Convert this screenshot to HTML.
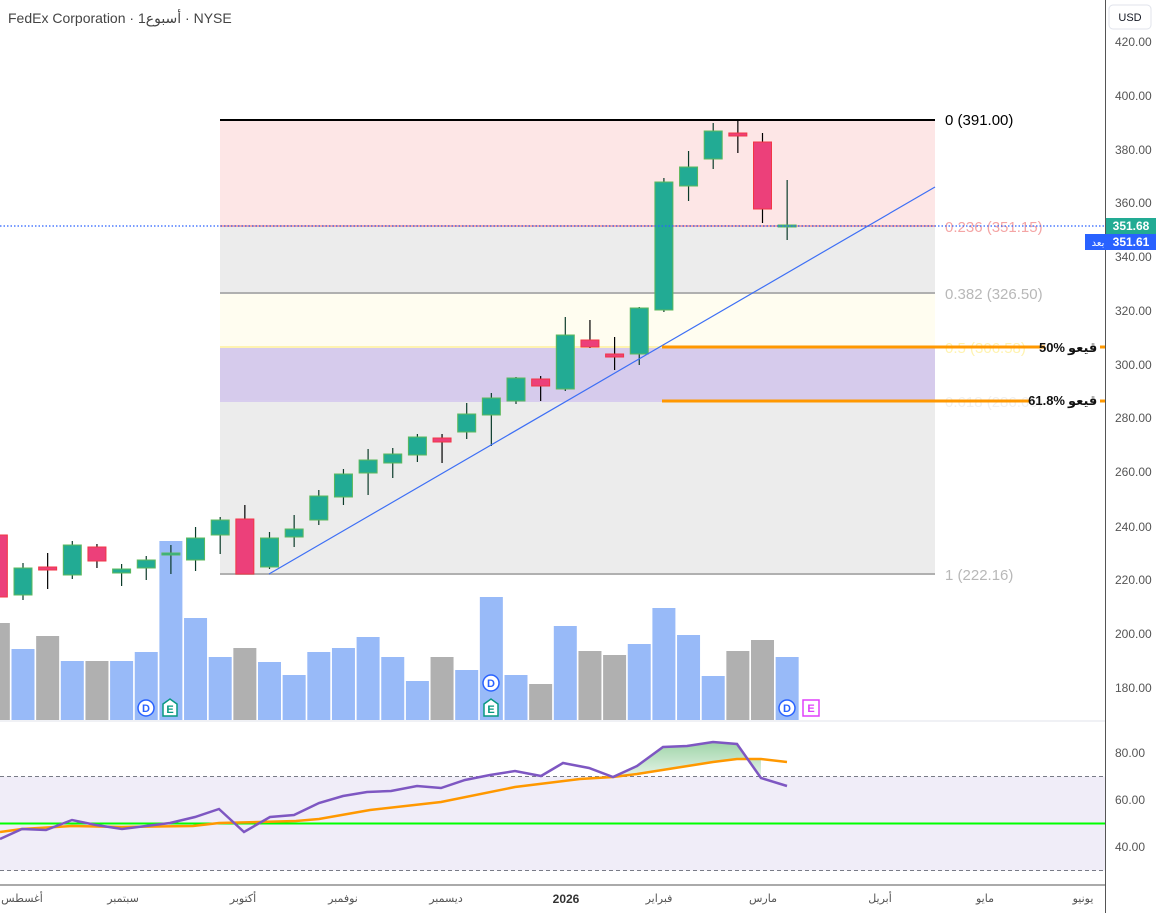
<!DOCTYPE html>
<html><head><meta charset="utf-8"><style>
body{margin:0;background:#fff;width:1159px;height:913px;overflow:hidden;font-family:"Liberation Sans","Noto Sans CJK SC",sans-serif}
svg{display:block}
text{font-family:"Liberation Sans","DejaVu Sans",sans-serif}
</style></head><body>
<svg id="s" width="1159" height="913" viewBox="0 0 1159 913" xmlns="http://www.w3.org/2000/svg">
<defs>
<linearGradient id="gg" x1="0" y1="0" x2="0" y2="1"><stop offset="0" stop-color="#9fd4a8"/><stop offset="1" stop-color="#e8f5ea"/></linearGradient>
<clipPath id="ob"><rect x="0" y="720" width="1105" height="56.5"/></clipPath>
</defs>
<rect x="220" y="120" width="715" height="106" fill="#fde6e6"/>
<rect x="220" y="226" width="715" height="67" fill="#ececec"/>
<rect x="220" y="293" width="715" height="54" fill="#fffdf0"/>
<rect x="220" y="347" width="715" height="54" fill="#d6cbec"/>
<rect x="220" y="401" width="715" height="173" fill="#ececec"/>
<line x1="220" y1="120" x2="935" y2="120" stroke="#000" stroke-width="2"/>
<line x1="220" y1="226" x2="935" y2="226" stroke="#f4a5a5" stroke-width="2"/>
<line x1="220" y1="293" x2="935" y2="293" stroke="#b0b0b0" stroke-width="2"/>
<line x1="220" y1="347" x2="935" y2="347" stroke="#fff3b0" stroke-width="2"/>
<line x1="220" y1="401" x2="935" y2="401" stroke="#d8cdee" stroke-width="2"/>
<line x1="220" y1="574" x2="935" y2="574" stroke="#b0b0b0" stroke-width="2"/>
<g font-size="15">
<text x="945" y="125" fill="#000">0 (391.00)</text>
<text x="945" y="232" fill="#f4a5a5">0.236 (351.15)</text>
<text x="945" y="299" fill="#b8b8b8">0.382 (326.50)</text>
<text x="945" y="353" fill="#fff3b0">0.5 (306.58)</text>
<text x="945" y="407" fill="#f0f0f0">0.618 (286.66)</text>
<text x="945" y="580" fill="#b8b8b8">1 (222.16)</text>
</g>
<g id="vol"></g>
<g id="cd"></g>
<line x1="269" y1="574" x2="935" y2="187" stroke="#3d6ff5" stroke-width="1.2"/>
<line x1="662" y1="347" x2="1045" y2="347" stroke="#ff9800" stroke-width="3"/>
<line x1="662" y1="401" x2="1030" y2="401" stroke="#ff9800" stroke-width="3"/>
<line x1="1100" y1="347" x2="1105" y2="347" stroke="#ff9800" stroke-width="3"/>
<line x1="1100" y1="401" x2="1105" y2="401" stroke="#ff9800" stroke-width="3"/>
<g font-size="13" font-weight="bold" fill="#111">
<text x="1065" y="352" text-anchor="end" direction="ltr">50%</text>
<text x="1068" y="352">قيعو</text>
<text x="1065" y="405" text-anchor="end" direction="ltr">61.8%</text>
<text x="1068" y="405">قيعو</text>
</g>
<line x1="0" y1="226" x2="1105" y2="226" stroke="#2962ff" stroke-width="1.3" stroke-dasharray="1.5 2"/>
<g font-size="11" font-weight="bold" text-anchor="middle">
<circle cx="146" cy="708" r="8" fill="#fff" stroke="#2962ff" stroke-width="1.5"/><text x="146" y="712" fill="#2962ff">D</text>
<path d="M163 704 L170 699 L177 704 L177 716 L163 716 Z" fill="#fff" stroke="#089981" stroke-width="1.5"/><text x="170" y="713" fill="#089981">E</text>
<circle cx="491" cy="683" r="8" fill="#fff" stroke="#2962ff" stroke-width="1.5"/><text x="491" y="687" fill="#2962ff">D</text>
<path d="M484 704 L491 699 L498 704 L498 716 L484 716 Z" fill="#fff" stroke="#089981" stroke-width="1.5"/><text x="491" y="713" fill="#089981">E</text>
<circle cx="787" cy="708" r="8" fill="#fff" stroke="#2962ff" stroke-width="1.5"/><text x="787" y="712" fill="#2962ff">D</text>
<rect x="803" y="700" width="16" height="16" fill="#fff" stroke="#e040fb" stroke-width="1.5"/><text x="811" y="712" fill="#e040fb">E</text>
</g>
<line x1="0" y1="721" x2="1105" y2="721" stroke="#e0e3eb"/>
<rect x="0" y="776.5" width="1105" height="94" fill="#f0edf8"/>
<line x1="0" y1="776.5" x2="1105" y2="776.5" stroke="#787b86" stroke-dasharray="4 3"/>
<line x1="0" y1="870.5" x2="1105" y2="870.5" stroke="#787b86" stroke-dasharray="4 3"/>
<line x1="0" y1="823.5" x2="1105" y2="823.5" stroke="#00ff00" stroke-width="2"/>
<g id="rsi"></g>
<line x1="0" y1="885" x2="1105" y2="885" stroke="#555"/>
<line x1="1105.5" y1="0" x2="1105.5" y2="913" stroke="#555"/>
<g font-size="12" fill="#555">
<text x="1115" y="46">420.00</text><text x="1115" y="100">400.00</text><text x="1115" y="154">380.00</text><text x="1115" y="207">360.00</text><text x="1115" y="261">340.00</text><text x="1115" y="315">320.00</text><text x="1115" y="369">300.00</text><text x="1115" y="422">280.00</text><text x="1115" y="476">260.00</text><text x="1115" y="531">240.00</text><text x="1115" y="584">220.00</text><text x="1115" y="638">200.00</text><text x="1115" y="692">180.00</text>
<text x="1115" y="757">80.00</text><text x="1115" y="804">60.00</text><text x="1115" y="851">40.00</text>
</g>
<rect x="1109" y="5" width="42" height="24" rx="4" fill="#fff" stroke="#e0e3eb"/>
<text x="1130" y="21" font-size="11" fill="#131722" text-anchor="middle">USD</text>
<rect x="1106" y="218" width="50" height="16" fill="#22ab94"/>
<text x="1131" y="230" font-size="12" fill="#fff" text-anchor="middle" font-weight="bold">351.68</text>
<rect x="1085" y="234" width="71" height="16" fill="#2962ff"/>
<text x="1098" y="246" font-size="10" fill="#fff" text-anchor="middle">بعد</text>
<text x="1131" y="246" font-size="12" fill="#fff" text-anchor="middle" font-weight="bold">351.61</text>
<g font-size="11" fill="#555" text-anchor="middle">
<text x="22" y="902">أغسطس</text><text x="123" y="902">سبتمبر</text><text x="243" y="902">أكتوبر</text><text x="343" y="902">نوفمبر</text><text x="446" y="902">ديسمبر</text>
<text x="566" y="903" font-weight="bold" font-size="12" fill="#333">2026</text>
<text x="659" y="902">فبراير</text><text x="763" y="902">مارس</text><text x="880" y="902">أبريل</text><text x="985" y="902">مايو</text><text x="1083" y="902">يونيو</text>
</g>
<text x="8" y="23" font-size="14" fill="#444">FedEx Corporation · 1أسبوع · NYSE</text>
</svg>
<script>
var NS="http://www.w3.org/2000/svg";
function el(p,t,a){var e=document.createElementNS(NS,t);for(var k in a)e.setAttribute(k,a[k]);p.appendChild(e);return e;}
var C=[[-1,535,597,535,597,0],[0,568,595,563,600,1],[1,567,570,553,589,0],[2,545,575,541,579,1],[3,547,561,544,568,0],[4,569,573,564,586,1],[5,560,568,556,580,1],[6,553,555,545,574,1],[7,538,560,527,571,1],[8,520,535,517,554,1],[9,519,574,505,574,0],[10,538,567,532,569,1],[11,529,537,515,547,1],[12,496,520,490,525,1],[13,474,497,469,505,1],[14,460,473,449,495,1],[15,454,463,448,478,1],[16,437,455,434,462,1],[17,438,442,434,463,0],[18,414,432,403,439,1],[19,398,415,393,446,1],[20,378,401,377,404,1],[21,379,386,376,401,0],[22,335,389,317,391,1],[23,340,347,320,348,0],[24,354,357,337,370,0],[25,308,354,307,365,1],[26,182,310,178,312,1],[27,167,186,151,201,1],[28,131,159,123,169,1],[29,133,136,120,153,0],[30,142,209,133,223,0],[31,225,226,180,240,1]];
var V={"-1":[623,0],0:[649,1],1:[636,0],2:[661,1],3:[661,0],4:[661,1],5:[652,1],6:[541,1],7:[618,1],8:[657,1],9:[648,0],10:[662,1],11:[675,1],12:[652,1],13:[648,1],14:[637,1],15:[657,1],16:[681,1],17:[657,0],18:[670,1],19:[597,1],20:[675,1],21:[684,0],22:[626,1],23:[651,0],24:[655,0],25:[644,1],26:[608,1],27:[635,1],28:[676,1],29:[651,0],30:[640,0],31:[657,1]};
var cd=document.getElementById("cd"),vol=document.getElementById("vol");
function X(i){return 23+24.65*i;}
for(var k in V){var i=+k,x=X(i);el(vol,"rect",{x:x-11.5,y:V[k][0],width:23,height:720-V[k][0],fill:V[k][1]?"#98baf8":"#b0b0b0"});}
C.forEach(function(c){var x=X(c[0]);var up=c[5];
el(cd,"line",{x1:x,y1:c[3],x2:x,y2:c[4],stroke:up?"#0b3b2a":"#000","stroke-width":1.2});
var h=Math.max(c[2]-c[1],2);
el(cd,"rect",{x:x-9,y:c[1],width:18,height:h,fill:up?"#22ab94":"#ec407a",stroke:up?"#5cb85c":"#f23645","stroke-width":1});});
var P=[[0,839],[22,829],[46,830],[72,820],[96,825],[122,829],[146,826],[170,823],[195,817],[219,809],[244,832],[270,817],[294,815],[319,803],[343,796],[367,792],[391,791],[417,786],[441,788],[465,780],[490,775],[515,771],[541,776],[563,763],[589,768],[613,777],[637,766],[663,747],[687,746],[713,742],[737,744],[761,778],[787,786]];
var O=[[0,832],[22,829],[72,826],[122,827],[193,826],[219,823],[296,821],[319,819],[370,810],[441,802],[515,787],[580,779],[613,777],[637,774],[713,762],[737,759],[761,759],[787,762]];
var r=document.getElementById("rsi");
var pts=P.map(function(p){return p.join(",")}).join(" ");
var fp=P.filter(function(p){return p[0]>=613&&p[0]<=761;}).map(function(p){return p.join(",")}).join(" ");
el(r,"polygon",{points:fp+" 761,759 737,759 713,762 637,774 613,777",fill:"url(#gg)","clip-path":"url(#ob)"});
el(r,"polyline",{points:O.map(function(p){return p.join(",")}).join(" "),fill:"none",stroke:"#ff9800","stroke-width":2.5});
el(r,"polyline",{points:pts,fill:"none",stroke:"#7e57c2","stroke-width":2.5});
</script>
</body></html>
